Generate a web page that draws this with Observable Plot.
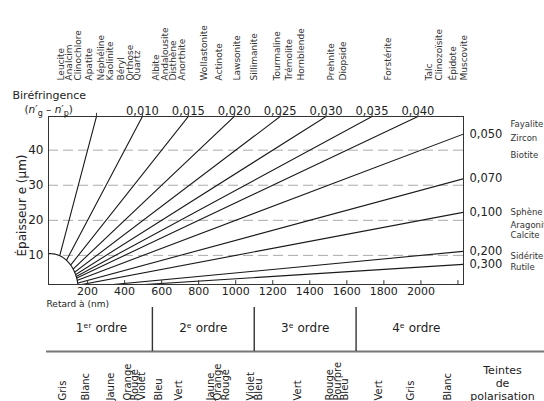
<!DOCTYPE html>
<html><head><meta charset="utf-8">
<script src="https://cdn.jsdelivr.net/npm/d3@7"></script>
<script src="https://cdn.jsdelivr.net/npm/@observablehq/plot@0.6"></script>
<style>html,body{margin:0;padding:0;background:#fff} svg{display:block}</style>
</head><body><div id="chart"></div>
<script>
// ---- data ----
const lineBiref = [0.005, 0.010, 0.015, 0.020, 0.025, 0.030, 0.035, 0.040, 0.050, 0.070, 0.100, 0.200, 0.300];
const topLabelBiref = [0.010, 0.015, 0.020, 0.025, 0.030, 0.035, 0.040];
const topLabels = ["0,010", "0,015", "0,020", "0,025", "0,030", "0,035", "0,040"];
const rightLabelBiref = [0.050, 0.070, 0.100, 0.200, 0.300];
const rightLabels = ["0,050", "0,070", "0,100", "0,200", "0,300"];
const topMinerals = ["Leucite","Analcim","Clinochlore","Apatite","Néphéline","Kaolinite","Béryl","Orthose","Quartz",
  "Albite","Andalousite","Disthène","Anorthite","Wollastonite","Actinote","Lawsonite","Sillimanite",
  "Tourmaline","Trémolite","Hornblende","Prehnite","Diopside","Forstérite","Talc","Clinozoïsite","Épidote","Muscovite"];
const topMineralBiref = [0.0008,0.0016,0.0026,0.0038,0.0051,0.0061,0.0073,0.0083,0.0090,
  0.0111,0.0121,0.0130,0.0139,0.0163,0.0180,0.0199,0.0218,
  0.0243,0.0256,0.0269,0.0302,0.0315,0.0364,0.0408,0.0419,0.0435,0.0446];
const rightMinerals = ["Fayalite","Zircon","Biotite","Sphène","Aragonite","Calcite","Sidérite","Rutile"];
const rightMineralBiref = [0.0471,0.0515,0.058,0.100,0.1205,0.142,0.230,0.340];
const tintNames = ["Gris","Blanc","Jaune","Orange","Rouge","Violet","Bleu","Vert","Jaune","Orange","Rouge","Violet","Bleu",
  "Vert","Rouge","Pourpre","Bleu","Vert","Gris","Blanc"];
const tintRetard = [81,205,345,432,470,508,600,712,885,922,965,1100,1140,1350,1523,1566,1604,1790,1962,2160];
const orderBounds = [0, 550, 1100, 1650, 2300];
const orderLabels = ["1ᵉʳ ordre", "2ᵉ ordre", "3ᵉ ordre", "4ᵉ ordre"];
const xTickLabels = [200,400,600,800,1000,1200,1400,1600,1800,2000];
const xInnerTicks = [200,400,600,800,1000,1200,1400,1600,1800,2000,2200];
const yTickLabels = [10,20,30,40];
const xDomain = [-11, 2230];
const yDomain = [1.7, 49.6];
const arcRadius = {R: 150, e: 10.5};

// ---- derived tables ----
const lineData = lineBiref.flatMap(b => [{b, R: 0, e: 0}, {b, R: 1000 * b * 100, e: 100}]);
const arcPts = [{R: xDomain[0], e: arcRadius.e}].concat(
  d3.range(90, -1, -3).map(deg => ({R: arcRadius.R * Math.cos(deg * Math.PI / 180), e: arcRadius.e * Math.sin(deg * Math.PI / 180)})));
const yTop = yDomain[1], xRight = xDomain[1];
const orderMid = orderLabels.map((_, i) => (orderBounds[i] + orderBounds[i + 1]) / 2);
const ink = "#222";
const F = "DejaVu Sans";

const chart = Plot.plot({
  width: 544, height: 401,
  marginLeft: 48, marginRight: 81, marginTop: 116, marginBottom: 117,
  style: {fontFamily: F, background: "white", color: ink, overflow: "hidden"},
  x: {domain: xDomain},
  y: {domain: yDomain},
  marks: [
    Plot.ruleY(yTickLabels, {stroke: "#aaa", strokeDasharray: "10,5", strokeWidth: 1}),
    Plot.line(lineData, {x: "R", y: "e", z: "b", stroke: "#1a1a1a", strokeWidth: 1.1, clip: true}),
    Plot.areaY(arcPts, {x: "R", y1: 0, y2: "e", fill: "white", clip: true}),
    Plot.line(arcPts, {x: "R", y: "e", stroke: "#1a1a1a", strokeWidth: 1.1, clip: true}),
    Plot.ruleX(xInnerTicks, {y1: yDomain[0], y2: yDomain[0] + 1.1, stroke: "#333"}),
    Plot.ruleX(lineBiref.filter(b => b <= 0.04), {x: b => 1000 * yTop * b, y1: yTop, y2: yTop + 0.9, stroke: "#333"}),
    Plot.frame({stroke: "#333", strokeWidth: 1}),
    Plot.axisX({ticks: xTickLabels, tickFormat: d => String(d), tickSize: 0, tickPadding: 3, fontSize: 11, label: null}),
    Plot.axisY({ticks: yTickLabels, tickSize: 0, tickPadding: 5, fontSize: 12, label: null}),
    Plot.text(["Épaisseur e (µm)"], {frameAnchor: "left", dx: -26, dy: 5, rotate: -90, textAnchor: "middle", fontSize: 12, fill: ink}),
    Plot.text(["Retard à (nm)"], {frameAnchor: "bottom-left", dx: -2, dy: 22, textAnchor: "start", fontSize: 9, fill: ink}),
    Plot.text(["Biréfringence"], {frameAnchor: "top-left", dx: -36, dy: -25, textAnchor: "start", fontSize: 11, fill: ink}),
    Plot.text(["(n'g – n'p)"], {frameAnchor: "top-left", dx: -24, dy: -11, textAnchor: "start", fontSize: 10.5, fill: ink}),
    Plot.text(topLabels, {x: topLabelBiref.map(b => 1000 * yTop * b), text: d => d, frameAnchor: "top", dy: -10, fontSize: 11.5, fill: ink}),
    Plot.text(topMinerals, {x: topMineralBiref.map(b => 1000 * yTop * b), text: d => d, frameAnchor: "top", dy: -36,
      rotate: -90, textAnchor: "start", fontSize: 9, fill: "#333"}),
    Plot.text(rightLabels, {x: rightLabels.map(() => xRight), y: rightLabelBiref.map(b => xRight / (1000 * b)), text: d => d,
      dx: 6, textAnchor: "start", fontSize: 11.5, fill: ink}),
    Plot.text(rightMinerals, {x: rightMinerals.map(() => xRight), y: rightMineralBiref.map(b => xRight / (1000 * b)), text: d => d,
      dx: 47, textAnchor: "start", fontSize: 8.5, fill: "#333"}),
    // order band
    Plot.ruleY([yDomain[0]], {dy: 67, insetLeft: -2, insetRight: -81, stroke: "#777", strokeWidth: 2}),
    Plot.ruleX(orderBounds.slice(1, 4), {dy: 67, insetTop: 124, stroke: "#333", strokeWidth: 1.4}),
    Plot.text(orderLabels, {x: orderMid, text: d => d, frameAnchor: "bottom", dy: 47, textAnchor: "middle", fontSize: 12, fill: ink}),
    Plot.text(tintNames, {x: tintRetard, text: d => d, frameAnchor: "bottom", dy: 116, rotate: -90, textAnchor: "start", fontSize: 10, fill: ink}),
    Plot.text(["Teintes\nde\npolarisation"], {frameAnchor: "bottom-right", dx: 39, dy: 115, textAnchor: "middle", lineHeight: 1.15, fontSize: 11, fill: ink})
  ]
});

// subscripts for (n'g – n'p)
d3.select(chart).selectAll("text").filter(function () { return this.textContent === "(n'g – n'p)"; }).each(function () {
  const t = d3.select(this);
  t.text("");
  t.append("tspan").text("(");
  t.append("tspan").attr("font-style", "italic").text("n′");
  t.append("tspan").attr("dy", 3).attr("font-size", 8).text("g");
  t.append("tspan").attr("dy", -3).text(" – ");
  t.append("tspan").attr("font-style", "italic").text("n′");
  t.append("tspan").attr("dy", 3).attr("font-size", 8).text("p");
  t.append("tspan").attr("dy", -3).text(")");
});

document.getElementById("chart").append(chart);
</script>
</body></html>
